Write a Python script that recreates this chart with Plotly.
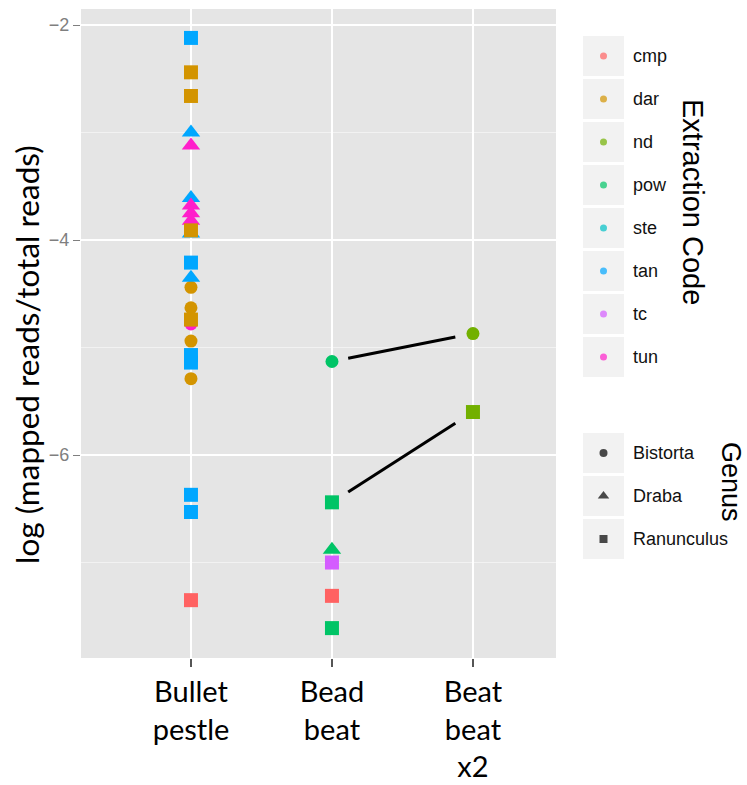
import plotly.graph_objects as go

W, H = 747, 785

# ---------------- data ----------------
methods = ["Bullet pestle", "Bead beat", "Beat beat x2"]
method_ticktext = ["Bullet<br>pestle", "Bead<br>beat", "Beat<br>beat<br>x2"]
codes = ["cmp", "dar", "nd", "pow", "ste", "tan", "tc", "tun"]
genera = ["Bistorta", "Draba", "Ranunculus"]

pt_method = (["Bullet pestle"] * 24 + ["Bead beat"] * 6 + ["Beat beat x2"] * 2)
pt_code = ["tan", "dar", "dar", "tun", "tan", "tan", "tun", "tun", "tan", "tun",
           "dar", "tan", "dar", "tan", "dar", "tun", "dar", "dar", "tan", "tan",
           "dar", "tan", "tan", "cmp",
           "pow", "pow", "tc", "pow", "cmp", "pow",
           "nd", "nd"]
pt_genus = ["Ranunculus", "Ranunculus", "Ranunculus", "Draba", "Draba", "Draba", "Draba",
            "Draba", "Draba", "Draba", "Ranunculus", "Ranunculus", "Bistorta", "Draba",
            "Bistorta", "Bistorta", "Ranunculus", "Bistorta", "Ranunculus", "Ranunculus",
            "Bistorta", "Ranunculus", "Ranunculus", "Ranunculus",
            "Bistorta", "Ranunculus", "Ranunculus", "Draba", "Ranunculus", "Ranunculus",
            "Bistorta", "Ranunculus"]
pt_value = [-2.12, -2.44, -2.66, -3.12, -3.00, -3.61, -3.68, -3.75, -3.94, -3.82,
            -3.91, -4.21, -4.44, -4.35, -4.63, -4.78, -4.74, -4.94, -5.07, -5.14,
            -5.29, -6.37, -6.53, -7.35,
            -5.13, -6.44, -7.00, -6.88, -7.31, -7.61,
            -4.87, -5.60]

# linked samples (index of start point, index of end point)
link_start = [24, 25]
link_end = [30, 31]

# ---------------- styles ----------------
code_colors = {"cmp": "#FF6262", "dar": "#D39400", "nd": "#72B000", "pow": "#00C466",
               "ste": "#00C1C6", "tan": "#00A7FF", "tc": "#D45CFF", "tun": "#FF1FCB"}
genus_symbol = {"Bistorta": "circle", "Draba": "triangle-up", "Ranunculus": "square"}
genus_size = {"Bistorta": 13, "Draba": 16, "Ranunculus": 14}

# pixel geometry of the panel
PL, PR, PT, PB = 81, 556, 9, 658
XR = [-0.78, 2.589]
YR = [-7.888, -1.851]

fig = go.Figure()

xs = [methods.index(m) for m in pt_method]

# linking segments (trimmed so they stop short of the points)
t0, t1 = 0.115, 0.875
for a, b in zip(link_start, link_end):
    xa, xb = xs[a], xs[b]
    ya, yb = pt_value[a], pt_value[b]
    fig.add_trace(go.Scatter(
        x=[xa + t0 * (xb - xa), xa + t1 * (xb - xa)],
        y=[ya + t0 * (yb - ya), ya + t1 * (yb - ya)],
        mode="lines", line=dict(color="black", width=3),
        showlegend=False, hoverinfo="skip"))

fig.add_trace(go.Scatter(
    x=xs, y=pt_value, mode="markers",
    marker=dict(color=[code_colors[c] for c in pt_code],
                symbol=[genus_symbol[g] for g in pt_genus],
                size=[genus_size[g] for g in pt_genus],
                line=dict(width=0), opacity=1),
    showlegend=False))

# ---------------- manual legends (overlay pixel axes) ----------------
KX0, KX1 = 583, 624
ec_top, step, kh = 36, 43, 40
gen_top = 433

shapes = []
annotations = []
leg_x, leg_y, leg_c, leg_s, leg_z = [], [], [], [], []
for i, c in enumerate(codes):
    y0 = ec_top + step * i
    shapes.append(dict(type="rect", xref="paper", yref="paper",
                       x0=KX0 / W, x1=KX1 / W, y0=1 - y0 / H, y1=1 - (y0 + kh) / H,
                       fillcolor="#F2F2F2", line=dict(width=0), layer="below"))
    leg_x.append((KX0 + KX1) / 2); leg_y.append(y0 + kh / 2)
    leg_c.append(code_colors[c]); leg_s.append("circle"); leg_z.append(7)
    annotations.append(dict(text=c, x=631 / W, y=1 - (y0 + kh / 2) / H, xref="paper", yref="paper",
                            xanchor="left", yanchor="middle", showarrow=False,
                            font=dict(family="Liberation Sans", size=18, color="#111111")))
gsize = {"Bistorta": 8, "Draba": 10, "Ranunculus": 8}
for j, g in enumerate(genera):
    y0 = gen_top + step * j
    shapes.append(dict(type="rect", xref="paper", yref="paper",
                       x0=KX0 / W, x1=KX1 / W, y0=1 - y0 / H, y1=1 - (y0 + kh) / H,
                       fillcolor="#F2F2F2", line=dict(width=0), layer="below"))
    leg_x.append((KX0 + KX1) / 2); leg_y.append(y0 + kh / 2)
    leg_c.append("black"); leg_s.append(genus_symbol[g]); leg_z.append(gsize[g])
    annotations.append(dict(text=g, x=631 / W, y=1 - (y0 + kh / 2) / H, xref="paper", yref="paper",
                            xanchor="left", yanchor="middle", showarrow=False,
                            font=dict(family="Liberation Sans", size=18, color="#111111")))

fig.add_trace(go.Scatter(
    x=leg_x, y=leg_y, mode="markers", xaxis="x2", yaxis="y2",
    marker=dict(color=leg_c, symbol=leg_s, size=leg_z, line=dict(width=0)),
    showlegend=False, hoverinfo="skip"))

annotations.append(dict(text="Extraction Code", textangle=90, x=693 / W, y=1 - 202 / H,
                        xref="paper", yref="paper", xanchor="center", yanchor="middle",
                        showarrow=False, font=dict(family="Liberation Sans", size=29, color="black")))
annotations.append(dict(text="Genus", textangle=90, x=731 / W, y=1 - 482 / H,
                        xref="paper", yref="paper", xanchor="center", yanchor="middle",
                        showarrow=False, font=dict(family="Liberation Sans", size=27, color="black")))
annotations.append(dict(text="log (mapped reads/total reads)", textangle=-90, x=27 / W, y=1 - 355 / H,
                        xref="paper", yref="paper", xanchor="center", yanchor="middle",
                        showarrow=False, font=dict(family="Lato", size=31.5, color="black")))

# panel background
shapes.insert(0, dict(type="rect", xref="x domain", yref="y domain", x0=0, x1=1, y0=0, y1=1,
                      fillcolor="#E5E5E5", line=dict(width=0), layer="below"))

fig.update_layout(
    width=W, height=H,
    margin=dict(l=0, r=0, t=0, b=0),
    paper_bgcolor="white", plot_bgcolor="rgba(0,0,0,0)",
    shapes=shapes, annotations=annotations,
    xaxis=dict(domain=[PL / W, PR / W], range=XR, tickmode="array",
               tickvals=list(range(len(methods))), ticktext=method_ticktext,
               showgrid=True, gridcolor="white", gridwidth=2, zeroline=False,
               ticks="outside", ticklen=8, tickwidth=1.5, tickcolor="#555555",
               tickfont=dict(family="Lato", size=29, color="black"),
               showline=False, automargin=False, fixedrange=True),
    yaxis=dict(domain=[1 - PB / H, 1 - PT / H], range=YR, tickmode="array",
               tickvals=[-6, -4, -2], ticktext=["\u22126", "\u22124", "\u22122"],
               showgrid=True, gridcolor="white", gridwidth=2, zeroline=False,
               ticks="outside", ticklen=7, tickwidth=1, tickcolor="#7F7F7F",
               tickfont=dict(family="Liberation Sans", size=18, color="#7F7F7F"),
               minor=dict(tickvals=[-7, -5, -3], showgrid=True, gridcolor="#F2F2F2",
                          gridwidth=1, ticks=""),
               showline=False, automargin=False, fixedrange=True),
    xaxis2=dict(domain=[0, 1], range=[0, W], visible=False, fixedrange=True, anchor="y2"),
    yaxis2=dict(domain=[0, 1], range=[H, 0], visible=False, fixedrange=True, anchor="x2"),
    showlegend=False,
)

fig.write_html("out.html")
